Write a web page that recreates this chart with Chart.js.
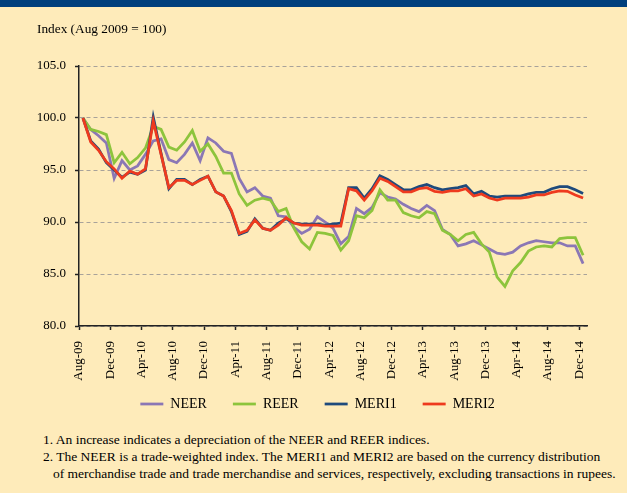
<!DOCTYPE html>
<html><head><meta charset="utf-8">
<script src="https://cdn.jsdelivr.net/npm/chart.js@4.4.1/dist/chart.umd.min.js"></script>
<style>
html,body{margin:0;padding:0;}
body{width:627px;height:493px;background:#FEEBBA;position:relative;overflow:hidden;font-family:"Liberation Serif","Times New Roman",serif;color:#000;}
#bar{position:absolute;left:0;top:0;width:627px;height:7px;background:#003F7D;}
#ytitle{position:absolute;left:37px;top:21px;font-size:13.3px;line-height:16px;white-space:nowrap;}
#cv{position:absolute;left:0;top:0;}
#notes{position:absolute;left:43px;top:431px;font-size:13.5px;line-height:17px;white-space:nowrap;}
#notes .ind{padding-left:10px;}
</style></head>
<body>
<div id="bar"></div>
<canvas id="cv" width="627" height="421"></canvas>
<div id="ytitle">Index (Aug 2009 = 100)</div>
<div id="notes">
<div>1. An increase indicates a depreciation of the NEER and REER indices.</div>
<div>2. The NEER is a trade-weighted index. The MERI1 and MERI2 are based on the currency distribution</div>
<div class="ind">of merchandise trade and trade merchandise and services, respectively, excluding transactions in rupees.</div>
</div>
<script>
// Monthly categories Aug-09 .. Dec-14
const monthNames = ['Jan','Feb','Mar','Apr','May','Jun','Jul','Aug','Sep','Oct','Nov','Dec'];
const months = [];
for (let k = 0; k < 65; k++) { const m = (7 + k) % 12; const y = 9 + Math.floor((7 + k) / 12); months.push(monthNames[m] + '-' + String(y).padStart(2, '0')); }

const tickLabels = ['Aug-09','Dec-09','Apr-10','Aug-10','Dec-10','Apr-11','Aug-11','Dec-11','Apr-12','Aug-12','Dec-12','Apr-13','Aug-13','Dec-13','Apr-14','Aug-14','Dec-14'];
const yTicks = [80, 85, 90, 95, 100, 105];

const neer = [100.0,98.9,98.3,97.6,94.2,95.9,95.0,95.4,96.5,97.8,98.0,96.0,95.7,96.5,97.6,95.9,98.1,97.6,96.8,96.6,
  94.2,92.9,93.3,92.5,92.3,90.6,90.5,89.5,88.9,89.3,90.5,90.0,89.4,87.9,88.6,91.3,90.8,91.4,92.8,92.4,
  92.2,91.7,91.3,91.0,91.6,91.1,89.3,88.8,87.7,87.9,88.2,87.8,87.4,87.0,86.9,87.1,87.7,88.0,88.2,88.1,
  88.0,88.0,87.7,87.7,86.0];
const reer = [100.0,98.9,98.7,98.4,95.7,96.7,95.6,96.2,97.1,99.2,98.9,97.2,96.9,97.7,98.8,96.8,97.5,96.3,94.7,94.7,
  92.7,91.6,92.1,92.3,92.1,91.0,91.3,89.4,88.1,87.4,89.0,88.9,88.7,87.3,88.2,90.6,90.4,91.1,93.1,92.1,
  92.1,90.9,90.6,90.4,91.0,90.8,89.2,88.8,88.2,88.8,89.0,87.9,87.1,84.7,83.8,85.3,86.1,87.2,87.6,87.7,
  87.6,88.4,88.5,88.5,86.8];
const meri1 = [100.0,97.8,97.0,95.7,95.0,94.3,94.8,94.6,95.0,100.1,96.6,93.2,94.1,94.1,93.6,94.1,94.4,92.9,92.5,91.0,
  88.8,89.1,90.3,89.4,89.2,89.9,90.3,89.9,89.8,89.8,89.8,89.7,89.8,89.9,93.3,93.3,92.3,93.2,94.45,94.1,
  93.6,93.1,93.1,93.4,93.6,93.3,93.1,93.2,93.3,93.5,92.7,92.95,92.5,92.4,92.5,92.5,92.5,92.7,92.85,92.85,
  93.2,93.4,93.4,93.1,92.75];
const meri2 = [100.0,97.7,96.9,95.8,95.1,94.2,94.9,94.6,95.1,99.7,96.5,93.3,94.0,94.0,93.6,94.0,94.4,92.9,92.5,91.1,
  88.9,89.2,90.2,89.4,89.2,89.7,90.4,89.9,89.7,89.7,89.7,89.6,89.6,89.6,93.2,93.0,92.1,93.0,94.2,93.9,
  93.4,92.9,92.9,93.2,93.3,92.95,92.85,93.0,93.0,93.2,92.5,92.7,92.3,92.1,92.3,92.3,92.3,92.4,92.6,92.6,
  92.85,93.0,92.95,92.6,92.3];

const toPts = arr => arr.map((v, i) => ({ x: i + 0.5, y: v }));
const FONT = 'Liberation Serif';

// let the rotated x labels extend below the (short) x-axis box without being clipped
const noClipLabels = { id: 'noClipLabels', beforeDraw(chart) { chart.scales.x._computeLabelArea = () => undefined; } };

new Chart(document.getElementById('cv'), {
  type: 'line',
  data: {
    datasets: [
      { label: 'NEER', data: toPts(neer), borderColor: '#8B77B5', backgroundColor: '#8B77B5', borderWidth: 2.75, pointRadius: 0, tension: 0, order: 4 },
      { label: 'REER', data: toPts(reer), borderColor: '#8DC43C', backgroundColor: '#8DC43C', borderWidth: 2.75, pointRadius: 0, tension: 0, order: 3 },
      { label: 'MERI1', data: toPts(meri1), borderColor: '#1E4A7C', backgroundColor: '#1E4A7C', borderWidth: 2.75, pointRadius: 0, tension: 0, order: 2 },
      { label: 'MERI2', data: toPts(meri2), borderColor: '#EE3A1E', backgroundColor: '#EE3A1E', borderWidth: 2.75, pointRadius: 0, tension: 0, order: 1 }
    ]
  },
  plugins: [noClipLabels],
  options: {
    responsive: false,
    animation: false,
    devicePixelRatio: 1,
    layout: { padding: { top: 66, left: 8, right: 0, bottom: 0 } },
    plugins: {
      tooltip: { enabled: false },
      legend: {
        position: 'bottom',
        labels: {
          usePointStyle: true, pointStyle: 'line', pointStyleWidth: 23,
          font: { family: FONT, size: 14 }, color: '#000', padding: 26,
          sort: (a, b) => a.datasetIndex - b.datasetIndex
        }
      }
    },
    scales: {
      x: {
        type: 'linear', min: 0, max: 65,
        afterBuildTicks: s => { s.ticks = tickLabels.map((_, k) => ({ value: k * 4 })); },
        afterFit: s => { s.height = 45; },
        ticks: {
          autoSkip: false, minRotation: 90, maxRotation: 90, padding: 11,
          font: { family: FONT, size: 13 }, color: '#000',
          callback: v => tickLabels[Math.round(v / 4)]
        },
        grid: { display: true, drawOnChartArea: false, drawTicks: true, tickLength: 4, tickColor: '#222', tickWidth: 1.5 },
        border: { display: true, color: '#222', width: 1.5 }
      },
      y: {
        type: 'linear', min: 80, max: 105,
        afterBuildTicks: s => { s.ticks = yTicks.map(v => ({ value: v })); },
        afterFit: s => { s.width = 71; },
        ticks: { padding: 9, font: { family: FONT, size: 13 }, color: '#000', callback: v => Number(v).toFixed(1) },
        grid: { display: true, color: '#A8A29A', lineWidth: 1, drawTicks: true, tickLength: 4, tickColor: '#222', tickWidth: 1.5, tickBorderDash: [] },
        border: { display: true, color: '#222', width: 1.5, dash: [4, 3] }
      },
      yR: {
        type: 'linear', position: 'right', display: true,
        ticks: { display: false }, grid: { display: false }, border: { display: false },
        afterFit: s => { s.width = 40; }
      }
    }
  }
});
</script>
</body></html>
